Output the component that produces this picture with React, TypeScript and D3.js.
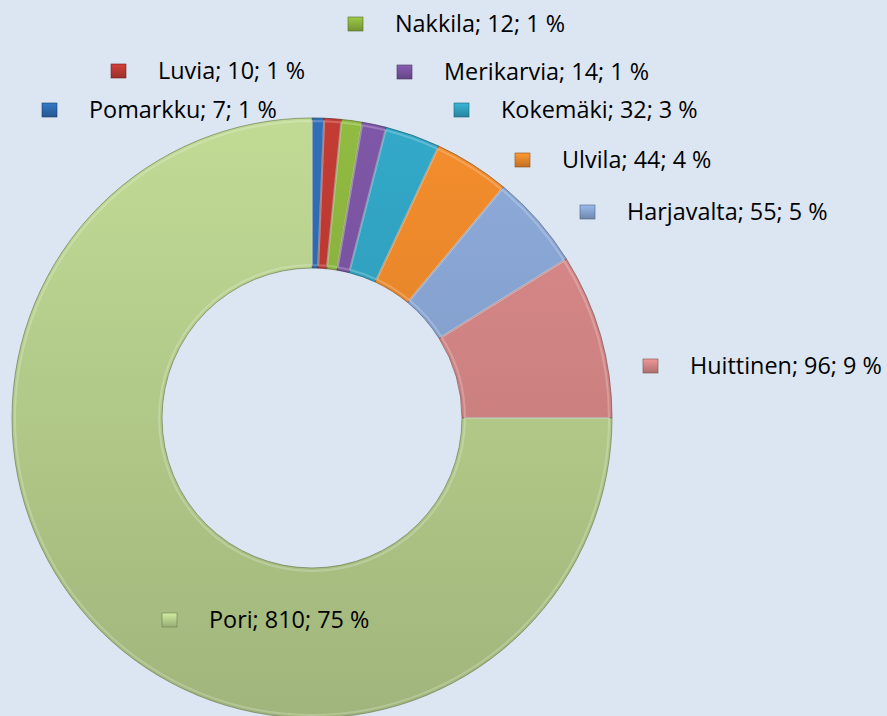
import React, { useEffect, useRef } from 'react';
import * as d3 from 'd3';

const towns = ['Pomarkku', 'Luvia', 'Nakkila', 'Merikarvia', 'Kokemäki', 'Ulvila', 'Harjavalta', 'Huittinen', 'Pori'];
const counts = [7, 10, 12, 14, 32, 44, 55, 96, 810];
const percents = [1, 1, 1, 1, 3, 4, 5, 9, 75];
const colors = ['#2f6cb3', '#be3a33', '#8db63f', '#7b55a3', '#32a4c3', '#ee8a2c', '#8aa7d6', '#d88888', '#bcd591'];
// where Excel put each label (key square left edge, text middle)
const labelAt: [number, number][] = [
  [42, 110], [111, 71], [348, 24], [397, 72], [454, 110], [515, 160], [580, 212], [643, 366], [162, 620],
];

const W = 887;
const H = 716;

export default function App() {
  const ref = useRef<SVGSVGElement>(null);

  useEffect(() => {
    document.body.style.margin = '0';
    const svg = d3.select(ref.current);
    svg.selectAll('*').remove();

    const cx = 312;
    const cy = 418;
    const outer = 300;
    const inner = 150;

    const defs = svg.append('defs');
    colors.forEach((c, i) => {
      const g = defs.append('linearGradient')
        .attr('id', `grad${i}`)
        .attr('gradientUnits', 'userSpaceOnUse')
        .attr('x1', 0).attr('y1', -outer)
        .attr('x2', 0).attr('y2', outer);
      g.append('stop').attr('offset', '0%').attr('stop-color', d3.color(c)!.brighter(0.08).formatHex());
      g.append('stop').attr('offset', '100%').attr('stop-color', d3.color(c)!.darker(0.45).formatHex());
      const k = defs.append('linearGradient')
        .attr('id', `key${i}`)
        .attr('x1', 0).attr('y1', 0).attr('x2', 0).attr('y2', 1);
      k.append('stop').attr('offset', '0%').attr('stop-color', d3.color(c)!.brighter(0.3).formatHex());
      k.append('stop').attr('offset', '100%').attr('stop-color', d3.color(c)!.darker(0.6).formatHex());
    });

    svg.append('rect').attr('width', W).attr('height', H).attr('fill', '#dce6f2');

    const pie = d3.pie<number>().sort(null).value(d => d);
    const arcs = pie(counts);
    const arc = d3.arc<d3.PieArcDatum<number>>().innerRadius(inner).outerRadius(outer);
    const arcIn = d3.arc<d3.PieArcDatum<number>>().innerRadius(inner + 3).outerRadius(outer - 3);

    const g = svg.append('g').attr('transform', `translate(${cx},${cy})`);
    g.selectAll('path.slice')
      .data(arcs)
      .enter().append('path')
      .attr('class', 'slice')
      .attr('d', arc)
      .attr('fill', (_, i) => `url(#grad${i})`)
      .attr('stroke', (_, i) => d3.color(colors[i])!.darker(1.5).formatHex())
      .attr('stroke-opacity', 0.7)
      .attr('stroke-width', 1);

    // soft bevel highlight
    g.selectAll('path.bevel')
      .data(arcs)
      .enter().append('path')
      .attr('class', 'bevel')
      .attr('d', d => arcIn(d))
      .attr('fill', 'none')
      .attr('stroke', '#ffffff')
      .attr('stroke-opacity', 0.22)
      .attr('stroke-width', 2);

    const labels = svg.append('g');
    arcs.forEach((d, i) => {
      const [x, y] = labelAt[i];
      labels.append('rect')
        .attr('x', x).attr('y', y - 7)
        .attr('width', 15).attr('height', 14)
        .attr('fill', `url(#key${i})`)
        .attr('stroke', d3.color(colors[i])!.darker(1.5).formatHex())
        .attr('stroke-width', 0.6);
      labels.append('text')
        .attr('x', x + 47)
        .attr('y', y)
        .attr('dy', '0.36em')
        .attr('font-family', 'Open Sans, sans-serif')
        .attr('font-size', 23.4)
        .attr('fill', '#000')
        .text(`${towns[i]}; ${d.data}; ${percents[i]} %`);
    });
  }, []);

  return <svg ref={ref} width={W} height={H} style={{ display: 'block' }} />;
}
